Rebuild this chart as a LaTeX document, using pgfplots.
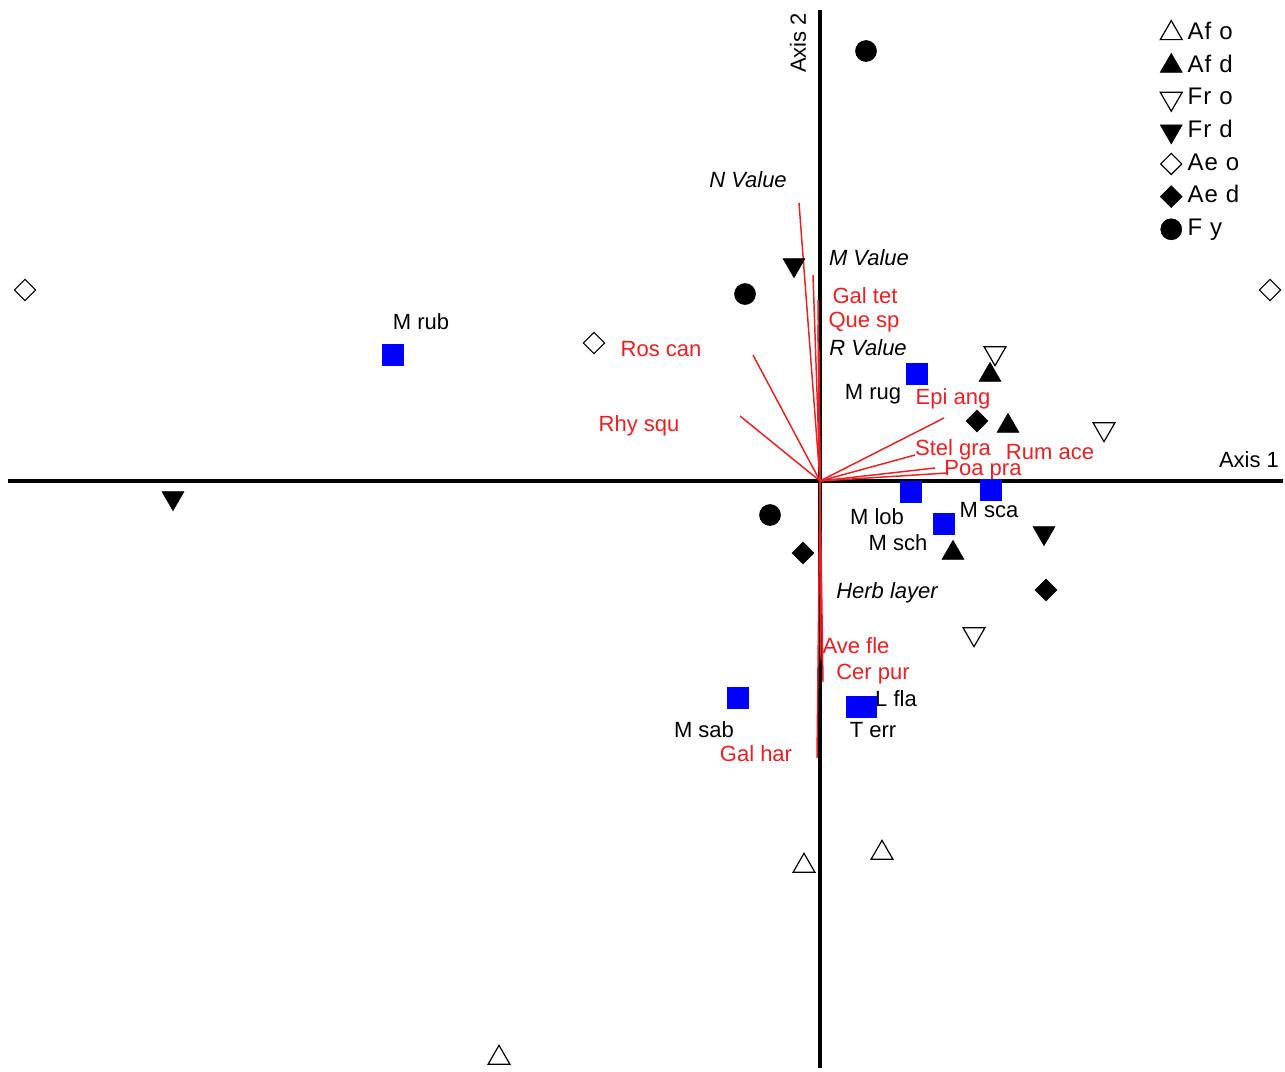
\documentclass[border=0pt]{standalone}
\usepackage{pgfplots}
\pgfplotsset{compat=1.18}
\usepackage{fontspec}
\setmainfont{Liberation Sans}
\definecolor{vred}{RGB}{232,32,36}
\definecolor{sqblue}{RGB}{0,0,255}
\newcommand{\lbl}{\fontsize{16.5}{18}\selectfont}
\begin{document}
\begin{tikzpicture}
\begin{axis}[
  scale only axis, width=963.75pt, height=803.25pt,
  xmin=0, xmax=1285, ymin=0, ymax=1071, y dir=reverse,
  hide axis, clip=false,
  legend style={at={(axis cs:1156,14)}, anchor=north west, draw=none, fill=none,
    font=\fontsize{18}{20}\selectfont\addfontfeature{LetterSpace=5}, row sep=0pt, column sep=4pt,
    nodes={inner sep=0pt, text height=17pt, text depth=7.5pt, anchor=west}},
  legend cell align=left,
  legend image code/.code={\draw[#1] plot coordinates {(0.25cm,0cm)};},
]
\path (axis cs:0,0) rectangle (axis cs:1285,1071);
% axes
\addplot[black, line width=3pt, forget plot] coordinates {(8,481) (1283,481)};
\addplot[black, line width=3pt, forget plot] coordinates {(820,10) (820,1068)};
% vectors
\addplot[vred, line width=1.1pt, forget plot] coordinates {(820,481) (799,203)};
\addplot[vred, line width=1.1pt, forget plot] coordinates {(820,481) (813,275)};
\addplot[vred, line width=1.1pt, forget plot] coordinates {(820,481) (818,300)};
\addplot[vred, line width=1.1pt, forget plot] coordinates {(820,481) (818,325)};
\addplot[vred, line width=1.1pt, forget plot] coordinates {(820,481) (819,350)};
\addplot[vred, line width=1.1pt, forget plot] coordinates {(820,481) (753,355)};
\addplot[vred, line width=1.1pt, forget plot] coordinates {(820,481) (740,416)};
\addplot[vred, line width=1.1pt, forget plot] coordinates {(820,481) (944,418)};
\addplot[vred, line width=1.1pt, forget plot] coordinates {(820,481) (915,455)};
\addplot[vred, line width=1.1pt, forget plot] coordinates {(820,481) (935,468)};
\addplot[vred, line width=1.1pt, forget plot] coordinates {(820,481) (947,473)};
\addplot[vred, line width=1.1pt, forget plot] coordinates {(820,481) (817,758)};
\addplot[vred, line width=1.1pt, forget plot] coordinates {(820,481) (823,682)};
\addplot[vred, line width=1.1pt, forget plot] coordinates {(820,481) (821,660)};
% blue squares (species)
\addplot[sqblue, only marks, mark=square*, mark size=7.8pt, mark options={draw=none, fill=sqblue}, forget plot]
  coordinates {(393,355) (917,374) (911,492) (991,490) (944,524) (738,698) (857,707) (866,707)};
% sample groups
\addplot[black, only marks, mark=triangle, mark size=9.5pt, mark options={draw=black, fill=white, line width=0.9pt}]
  coordinates {(804,866) (882,853) (499,1058)};
\addlegendentry{Af o}
\addplot[black, only marks, mark=triangle*, mark size=9.5pt, mark options={draw=black, fill=black}]
  coordinates {(990,375) (1008,426) (953,553)};
\addlegendentry{Af d}
\addplot[black, only marks, mark=triangle, mark size=9.5pt, mark options={draw=black, fill=white, line width=0.9pt, rotate=180}]
  coordinates {(995,353) (1104,429) (974,634)};
\addlegendentry{Fr o}
\addplot[black, only marks, mark=triangle*, mark size=9.5pt, mark options={draw=black, fill=black, rotate=180}]
  coordinates {(794,265) (173,498) (1044,533)};
\addlegendentry{Fr d}
\addplot[black, only marks, mark=square, mark size=5.6pt, mark options={draw=black, fill=white, line width=0.8pt, rotate=45}]
  coordinates {(25,290) (1270,290) (594,343)};
\addlegendentry{Ae o}
\addplot[black, only marks, mark=square*, mark size=5.8pt, mark options={draw=black, fill=black, rotate=45}]
  coordinates {(977,421) (803,553) (1046,590)};
\addlegendentry{Ae d}
\addplot[black, only marks, mark=*, mark size=7.9pt, mark options={draw=black, fill=black}]
  coordinates {(866,51) (745,294) (770,515)};
\addlegendentry{F y}
% axis titles
\node[font=\lbl, rotate=90] at (axis cs:798,43) {Axis 2};
\node[font=\lbl] at (axis cs:1249,460) {Axis 1};
% environmental variables
\node[font=\lbl\itshape] at (axis cs:748,180) {N Value};
\node[font=\lbl\itshape] at (axis cs:869,258) {M Value};
\node[font=\lbl\itshape] at (axis cs:868,348) {R Value};
\node[font=\lbl\itshape] at (axis cs:887,593) {Herb layer};
% red species labels
\node[font=\lbl, text=vred] at (axis cs:865,296) {Gal tet};
\node[font=\lbl, text=vred] at (axis cs:864,322) {Que sp};
\node[font=\lbl, text=vred] at (axis cs:661,349) {Ros can};
\node[font=\lbl, text=vred] at (axis cs:639,426) {Rhy squ};
\node[font=\lbl, text=vred] at (axis cs:953,399) {Epi ang};
\node[font=\lbl, text=vred] at (axis cs:953,450) {Stel gra};
\node[font=\lbl, text=vred] at (axis cs:1050,452) {Rum ace};
\node[font=\lbl, text=vred] at (axis cs:983,470) {Poa pra};
\node[font=\lbl, text=vred] at (axis cs:856,646) {Ave fle};
\node[font=\lbl, text=vred] at (axis cs:873,674) {Cer pur};
\node[font=\lbl, text=vred] at (axis cs:756,754) {Gal har};
% black species labels
\node[font=\lbl] at (axis cs:421,322) {M rub};
\node[font=\lbl] at (axis cs:873,394) {M rug};
\node[font=\lbl] at (axis cs:877,517) {M lob};
\node[font=\lbl] at (axis cs:989,510) {M sca};
\node[font=\lbl] at (axis cs:898,543) {M sch};
\node[font=\lbl] at (axis cs:704,730) {M sab};
\node[font=\lbl] at (axis cs:896,699) {L fla};
\node[font=\lbl] at (axis cs:873,730) {T err};
\end{axis}
\end{tikzpicture}
\end{document}
